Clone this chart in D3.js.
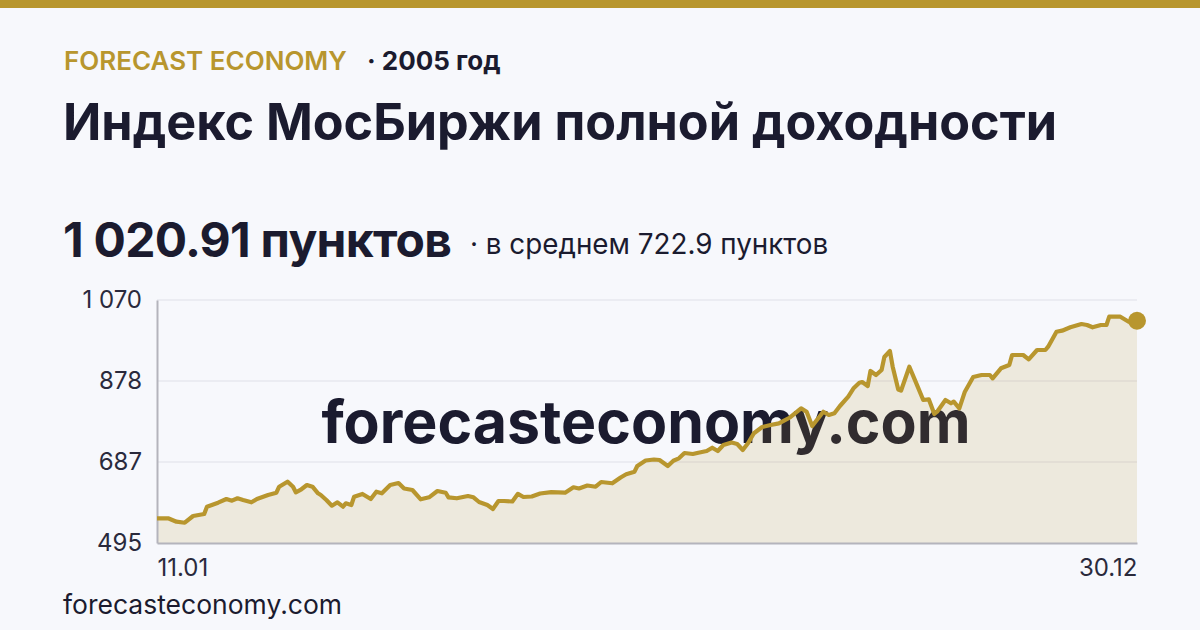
<!DOCTYPE html>
<html><head><meta charset="utf-8">
<script src="https://cdn.jsdelivr.net/npm/d3@7"></script>
<style>
html,body{margin:0;padding:0;background:#f7f8fc;}
svg{display:block;font-family:Inter,"Noto Sans",sans-serif;}
</style></head>
<body>
<script>
const dates = ["01-11","01-15","01-18","01-21","01-24","01-28","01-29","02-02","02-05","02-07","02-09","02-11","02-14","02-16","02-20","02-23","02-24","02-27","03-01","03-02","03-04","03-06","03-08","03-10","03-11","03-13","03-15","03-17","03-19","03-20","03-22","03-23","03-26","03-29","03-31","04-02","04-05","04-08","04-10","04-13","04-16","04-19","04-22","04-25","04-26","04-29","05-03","05-05","05-07","05-10","05-12","05-14","05-16","05-19","05-21","05-23","05-26","05-29","06-02","06-07","06-10","06-12","06-15","06-18","06-20","06-24","06-27","06-29","07-02","07-03","07-06","07-09","07-11","07-14","07-16","07-18","07-20","07-23","07-25","07-28","07-30","08-01","08-03","08-06","08-08","08-10","08-12","08-14","08-17","08-20","08-23","08-27","08-31","09-02","09-04","09-08","09-10","09-12","09-14","09-17","09-19","09-21","09-22","09-24","09-25","09-27","09-29","09-30","10-02","10-03","10-05","10-06","10-09","10-12","10-14","10-16","10-18","10-19","10-22","10-24","10-25","10-27","10-29","11-01","11-04","11-07","11-08","11-11","11-14","11-15","11-19","11-21","11-24","11-27","11-28","12-01","12-03","12-06","12-10","12-12","12-14","12-17","12-19","12-20","12-24","12-27","12-30"];
const values = [553.4,553.4,545.4,543.0,558.9,563.6,580.9,590.4,599.1,595.1,600.8,596.8,591.3,599.1,608.6,614.0,628.2,640.1,628.2,615.0,622.1,632.2,628.2,612.6,608.6,596.8,583.3,591.3,580.9,588.9,584.9,604.6,611.0,599.1,616.4,612.6,632.2,637.0,624.0,620.4,598.4,603.1,618.0,614.0,603.1,600.8,606.2,603.1,592.0,584.9,575.5,594.4,594.4,593.2,611.4,603.8,605.0,612.1,615.2,614.0,626.8,624.0,631.1,628.2,639.3,636.3,650.0,657.6,663.7,677.2,690.2,692.6,691.4,677.2,689.7,695.4,708.0,705.6,708.7,712.7,720.5,712.7,726.9,732.8,729.3,715.1,732.3,754.6,769.5,774.2,778.2,792.0,813.7,805.7,771.9,805.7,797.9,801.9,819.2,841.2,861.8,874.3,876.0,866.5,902.0,892.5,904.4,935.1,949.3,912.2,858.2,855.4,912.2,864.9,833.4,835.0,800.3,805.7,833.4,825.6,829.4,813.7,853.0,887.8,892.5,892.5,884.7,908.4,916.2,939.9,939.9,929.7,951.7,951.7,959.5,995.0,997.4,1005.4,1013.2,1010.9,1005.4,1010.9,1010.9,1030.5,1030.5,1018.7,1020.91];
const year = 2005;
const yMin = 495, yMax = 1070;
const yTickLabels = ["495","687","878","1 070"];
const xTickLabels = ["11.01","30.12"];
const brand = "FORECAST ECONOMY";
const yearLabel = "· 2005 год";
const title = "Индекс МосБиржи полной доходности";
const lastLabel = "1 020.91 пунктов";
const avgLabel = "· в среднем 722.9 пунктов";
const site = "forecasteconomy.com";

const W = 1200, H = 630;
const gold = "#b8962e", dark = "#1b1b2f";
const parse = d3.timeParse("%Y-%m-%d");
const data = dates.map((d,i)=>({date: parse(year+"-"+d), value: values[i]}));

const svg = d3.select("body").append("svg").attr("width",W).attr("height",H);
svg.append("rect").attr("width",W).attr("height",H).attr("fill","#f7f8fc");
svg.append("rect").attr("width",W).attr("height",8).attr("fill",gold);

svg.append("text").attr("x",64).attr("y",70).attr("font-size",26).attr("font-weight",600)
  .attr("fill",gold).text(brand);
svg.append("text").attr("x",367).attr("y",70).attr("font-size",26).attr("font-weight",700)
  .attr("fill",dark).text(yearLabel);
svg.append("text").attr("x",63).attr("y",140).attr("font-size",50.3).attr("font-weight",700)
  .attr("fill",dark).text(title);
svg.append("text").attr("x",63).attr("y",257).attr("font-size",48).attr("font-weight",700)
  .attr("letter-spacing",-0.75).attr("fill",dark).text(lastLabel);
svg.append("text").attr("x",470).attr("y",254).attr("font-size",27.8).attr("font-weight",400)
  .attr("fill",dark).text(avgLabel);

const x = d3.scaleTime().domain([data[0].date, data[data.length-1].date]).range([157,1137]);
const y = d3.scaleLinear().domain([yMin,yMax]).range([543,300]);
const tickVals = yTickLabels.map((_,i)=> yMin + i*(yMax-yMin)/(yTickLabels.length-1));

// watermark (under the translucent fill)
svg.append("text").attr("x",646).attr("y",443).attr("text-anchor","middle")
  .attr("font-size",59).attr("font-weight",700).attr("fill",dark).text(site);

// grid
svg.append("g").selectAll("line").data(tickVals.slice(1)).join("line")
  .attr("x1",157).attr("x2",1137).attr("y1",d=>y(d)).attr("y2",d=>y(d))
  .attr("stroke","#dfe0e7").attr("stroke-width",1.2);

const area = d3.area().x(d=>x(d.date)).y0(y(yMin)).y1(d=>y(d.value));
svg.append("path").datum(data).attr("d",area).attr("fill",gold).attr("fill-opacity",0.15);

// axes
const yAxis = d3.axisLeft(y).tickValues(tickVals).tickSize(0).tickPadding(15)
  .tickFormat((d,i)=>yTickLabels[i]);
const gy = svg.append("g").attr("transform","translate(157,0)").call(yAxis);
gy.select(".domain").attr("stroke","#b4b4bc").attr("stroke-width",2);
gy.selectAll("text").attr("font-size",24).attr("fill","#2a2a3c").attr("font-family","Inter");

const xAxis = d3.axisBottom(x).tickValues([data[0].date, data[data.length-1].date]).tickSize(0).tickPadding(16)
  .tickFormat((d,i)=>xTickLabels[i]);
const gx = svg.append("g").attr("transform","translate(0,543)").call(xAxis);
gx.select(".domain").attr("stroke","#b4b4bc").attr("stroke-width",2);
gx.selectAll("text").attr("font-size",24).attr("fill","#2a2a3c").attr("font-family","Inter")
  .attr("text-anchor",(d,i)=> i===0 ? "start" : "end");

const line = d3.line().x(d=>x(d.date)).y(d=>y(d.value));
svg.append("path").datum(data).attr("d",line).attr("fill","none").attr("stroke",gold)
  .attr("stroke-width",4.2).attr("stroke-linejoin","round");
const last = data[data.length-1];
svg.append("circle").attr("cx",x(last.date)).attr("cy",y(last.value)).attr("r",9).attr("fill",gold);

svg.append("text").attr("x",63).attr("y",614).attr("font-size",26.5).attr("font-weight",400)
  .attr("fill",dark).text(site);
</script>
</body></html>
